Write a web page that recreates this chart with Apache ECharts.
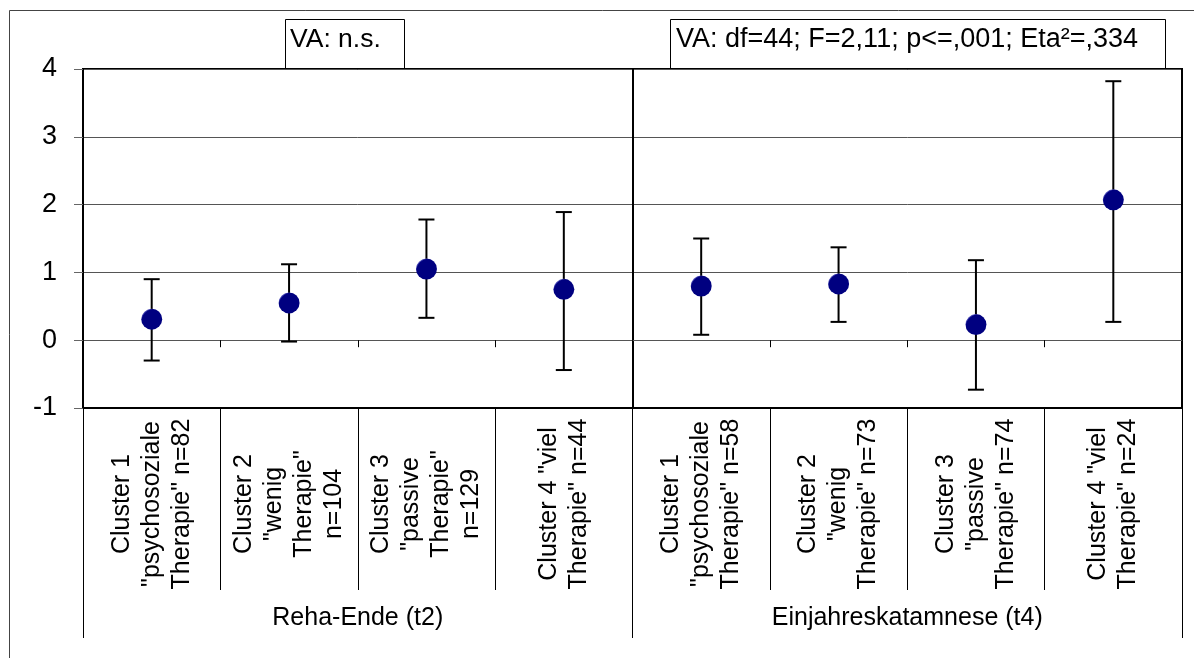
<!DOCTYPE html>
<html>
<head>
<meta charset="utf-8">
<script src="https://cdn.jsdelivr.net/npm/echarts@6/dist/echarts.min.js"></script>
<style>
html,body{margin:0;padding:0;background:#fff;}
#chart{width:1194px;height:658px;}
</style>
</head>
<body>
<div id="chart"></div>
<script>
// ---- data ----
const categories = [
  'Cluster 1\n"psychosoziale\nTherapie" n=82',
  'Cluster 2\n"wenig\nTherapie"\nn=104',
  'Cluster 3\n"passive\nTherapie"\nn=129',
  'Cluster 4 "viel\nTherapie" n=44',
  'Cluster 1\n"psychosoziale\nTherapie" n=58',
  'Cluster 2\n"wenig\nTherapie" n=73',
  'Cluster 3\n"passive\nTherapie" n=74',
  'Cluster 4 "viel\nTherapie" n=24'
];
const groups = ['Reha-Ende (t2)', 'Einjahreskatamnese (t4)'];
const means = [0.31, 0.55, 1.05, 0.75, 0.80, 0.83, 0.23, 2.07];
const lower = [-0.30, -0.02, 0.33, -0.44, 0.08, 0.27, -0.73, 0.27];
const upper = [0.90, 1.12, 1.78, 1.89, 1.50, 1.37, 1.18, 3.82];
const yMin = -1, yMax = 4, yInterval = 1;
const annotations = ['VA: n.s.', 'VA: df=44; F=2,11; p<=,001; Eta²=,334'];

// ---- chart ----
const FONT = "'Liberation Sans', Arial, sans-serif";
const chart = echarts.init(document.getElementById('chart'), null, {renderer: 'canvas'});

const errData = categories.map((c, i) => [i, lower[i], upper[i]]);

const option = {
  backgroundColor: '#fff',
  animation: false,
  textStyle: {fontFamily: FONT, color: '#000'},
  title: [
    {
      text: annotations[0], left: 285, top: 19,
      borderColor: '#000', borderWidth: 1,
      padding: [6, 24, 14, 5],
      textStyle: {fontFamily: FONT, fontSize: 26.5, fontWeight: 'normal', color: '#000', lineHeight: 30}
    },
    {
      text: annotations[1], left: 670, top: 19,
      borderColor: '#000', borderWidth: 1,
      padding: [6, 28, 14, 6],
      textStyle: {fontFamily: FONT, fontSize: 27, fontWeight: 'normal', color: '#000', lineHeight: 30}
    }
  ],
  graphic: [
    {type: 'rect', silent: true, z: -10,
     shape: {x: 9.5, y: 10.5, width: 1400, height: 1000},
     style: {fill: 'none', stroke: '#444', lineWidth: 1}}
  ],
  grid: {
    left: 83, right: 12, top: 69, bottom: 250,
    show: true, borderColor: '#000', borderWidth: 2, backgroundColor: 'transparent'
  },
  xAxis: [
    {
      type: 'category', data: categories, position: 'bottom', boundaryGap: true,
      axisLine: {onZero: false, show: true, lineStyle: {color: '#000', width: 2}},
      axisTick: {show: true, interval: 0, length: 182, lineStyle: {color: '#000', width: 1}},
      axisLabel: {
        interval: 0, rotate: 90, align: 'center', verticalAlign: 'middle', margin: 96,
        fontFamily: FONT, fontSize: 25, lineHeight: 30, color: '#000'
      },
      splitLine: {
        show: true,
        interval: function (index) { return index === 0 || index === 4; },
        lineStyle: {color: '#000', width: 2}
      }
    },
    {
      type: 'category', data: categories, position: 'bottom', boundaryGap: true,
      axisLine: {onZero: true, show: true, lineStyle: {color: '#555', width: 1}},
      axisTick: {show: true, interval: 0, length: 7, lineStyle: {color: '#000', width: 1}},
      axisLabel: {show: false},
      splitLine: {show: false}
    },
    {
      type: 'category', data: groups, position: 'bottom', boundaryGap: true,
      axisLine: {onZero: false, show: false},
      axisTick: {show: true, interval: 0, length: 230, lineStyle: {color: '#000', width: 1}},
      axisLabel: {interval: 0, margin: 198, fontFamily: FONT, fontSize: 25, color: '#000'},
      splitLine: {show: false}
    }
  ],
  yAxis: {
    type: 'value', min: yMin, max: yMax, interval: yInterval,
    axisLine: {show: false},
    axisTick: {show: true, length: 9, lineStyle: {color: '#666', width: 1}},
    axisLabel: {margin: 26, fontFamily: FONT, fontSize: 27, color: '#000'},
    splitLine: {show: true, lineStyle: {color: '#555', width: 1}}
  },
  series: [
    {
      type: 'custom', xAxisIndex: 0, yAxisIndex: 0, z: 3,
      data: errData,
      renderItem: function (params, api) {
        const x = api.value(0);
        const lo = api.coord([x, api.value(1)]);
        const hi = api.coord([x, api.value(2)]);
        const hw = 8;
        const st = {stroke: '#000', lineWidth: 2};
        return {
          type: 'group',
          children: [
            {type: 'line', shape: {x1: hi[0], y1: hi[1], x2: lo[0], y2: lo[1]}, style: st},
            {type: 'line', shape: {x1: hi[0] - hw, y1: hi[1], x2: hi[0] + hw, y2: hi[1]}, style: st},
            {type: 'line', shape: {x1: lo[0] - hw, y1: lo[1], x2: lo[0] + hw, y2: lo[1]}, style: st}
          ]
        };
      }
    },
    {
      type: 'scatter', xAxisIndex: 0, yAxisIndex: 0, z: 4,
      data: means,
      symbol: 'circle', symbolSize: 21,
      itemStyle: {
        color: {
          type: 'radial', x: 0.62, y: 0.62, r: 0.7,
          colorStops: [
            {offset: 0, color: '#000080'},
            {offset: 0.84, color: '#000080'},
            {offset: 0.92, color: '#5a5ac0'},
            {offset: 1, color: '#ffffff'}
          ]
        },
        opacity: 1
      }
    }
  ]
};
chart.setOption(option);
</script>
</body>
</html>
